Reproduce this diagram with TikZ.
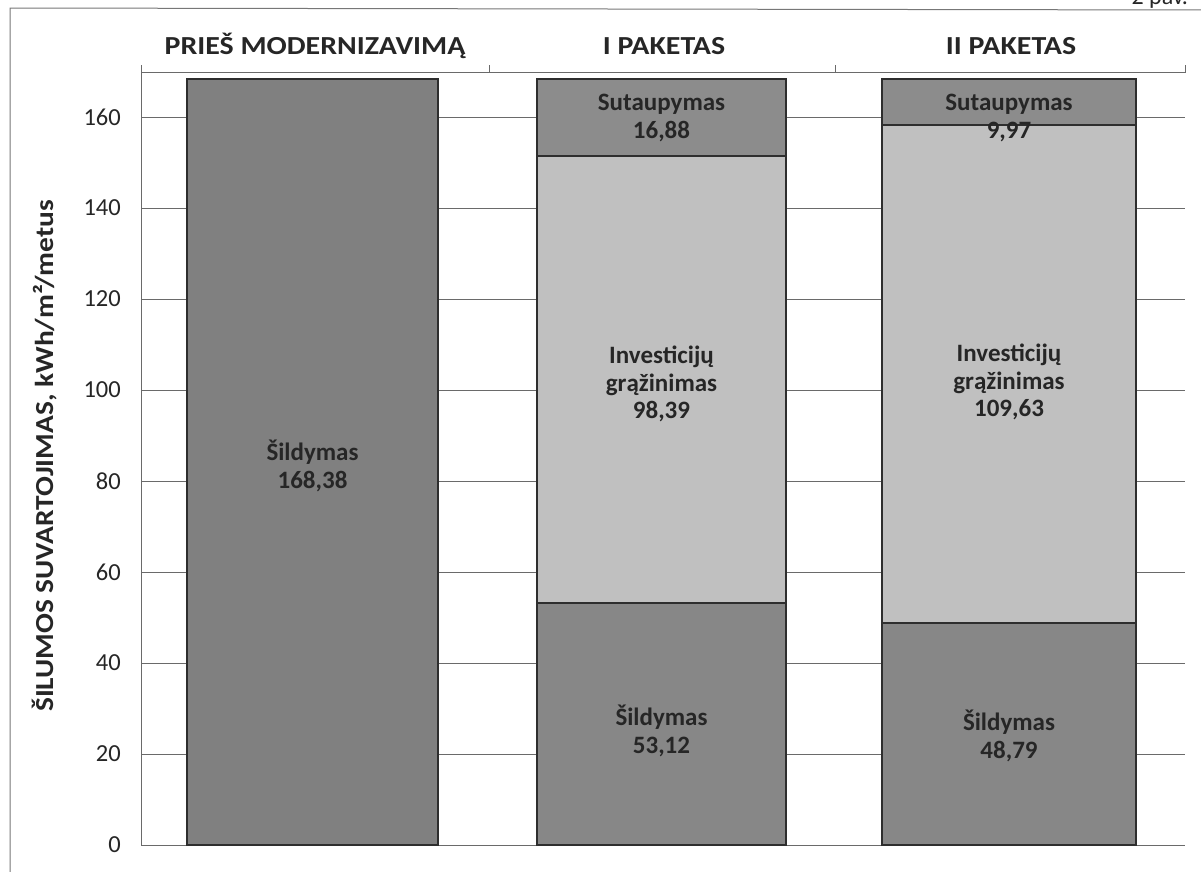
\documentclass[tikz,border=0pt]{standalone}
\usepackage{fontspec}
\setmainfont{Carlito}
\definecolor{heatone}{HTML}{808080}
\definecolor{heatbar}{HTML}{878787}
\definecolor{savebar}{HTML}{8C8C8C}
\definecolor{invbar}{HTML}{C0C0C0}
\definecolor{gridc}{HTML}{6A6A6A}
\definecolor{framec}{HTML}{777777}
\definecolor{barline}{HTML}{2E2E2E}
\tikzset{
  seg/.style={draw=barline, line width=1.4pt},
  gridline/.style={draw=gridc, line width=0.9pt},
  axisline/.style={draw=gridc, line width=0.9pt},
  framestyle/.style={draw=framec, line width=1pt},
  ticklab/.style={anchor=east, inner sep=0pt, font=\fontsize{24.5}{28}\selectfont, text=black!85},
  cattitle/.style={inner sep=0pt, font=\bfseries\fontsize{26}{30}\selectfont, text=black!85},
  barlab/.style={align=center, inner sep=0pt, font=\bfseries\fontsize{25}{27.5}\selectfont, text=black!85},
}
\begin{document}
\begin{tikzpicture}[x=1pt,y=-1pt]
\useasboundingbox (0,0) rectangle (1201,871);
% outer frame
\draw[framestyle] (10,880) -- (10,8) -- (1210,10);
\node[anchor=base east, inner sep=0pt, font=\fontsize{24}{28}\selectfont, text=black!85] (fig) at (1188,4) {2 pav.};
% grid lines
\foreach \v/\y in {20/754,40/663,60/572,80/481,100/390,120/299,140/208,160/117}{
  \draw[gridline] (141,\y) -- (1185,\y);
  \node[ticklab] (t\v) at (121,\y) {\v};
}
\node[ticklab] (t0) at (121,845) {0};
% axes
\draw[axisline] (141,845) -- (1185,845);
\draw[axisline] (141,845) -- (141,65);
\draw[axisline] (141,72) -- (1185,72) -- (1185,65);
\draw[axisline] (489,72) -- (489,65);
\draw[axisline] (835,72) -- (835,65);
% category titles
\node[cattitle] (c1) at (315,46) {\scalebox{1.15}[1]{PRIEŠ MODERNIZAVIMĄ}};
\node[cattitle] (c2) at (664,46) {\scalebox{1.15}[1]{I PAKETAS}};
\node[cattitle] (c3) at (1011,46) {\scalebox{1.15}[1]{II PAKETAS}};
% y axis title
\node[rotate=90, inner sep=0pt, font=\bfseries\fontsize{26}{30}\selectfont, text=black!85] (ytitle) at (45,456) {\scalebox{1.13}[1]{ŠILUMOS SUVARTOJIMAS, kWh/m²/metus}};
% bar 1
\filldraw[seg, fill=heatone] (187,79) rectangle (438,845);
\node[barlab] (b1h) at (312.5,466) {Šildymas\\168,38};
% bar 2
\filldraw[seg, fill=heatbar] (537,603) rectangle (786,845);
\filldraw[seg, fill=invbar] (537,156) rectangle (786,603);
\filldraw[seg, fill=savebar] (537,79) rectangle (786,156);
\node[barlab] (b2s) at (661.5,118) {Sutaupymas\\16,88};
\node[barlab] (b2i) at (661.5,384) {Investicijų\\grąžinimas\\98,39};
\node[barlab] (b2h) at (661.5,731) {Šildymas\\53,12};
% bar 3
\filldraw[seg, fill=heatbar] (882,623) rectangle (1136,845);
\filldraw[seg, fill=invbar] (882,125) rectangle (1136,623);
\filldraw[seg, fill=savebar] (882,79) rectangle (1136,125);
\node[barlab] (b3s) at (1009,118) {Sutaupymas\\9,97};
\node[barlab] (b3i) at (1009,382) {Investicijų\\grąžinimas\\109,63};
\node[barlab] (b3h) at (1009,736) {Šildymas\\48,79};
\end{tikzpicture}
\end{document}
